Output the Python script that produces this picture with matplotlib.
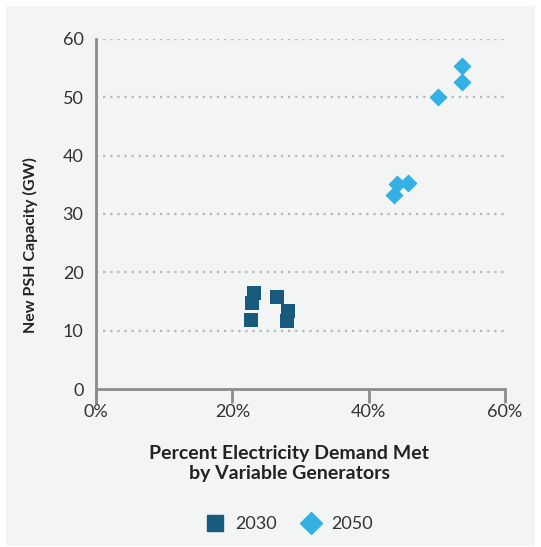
import numpy as np
import matplotlib.pyplot as plt
from matplotlib.lines import Line2D

# percent of demand met by variable generators vs new PSH capacity
x_2030 = [23.2, 22.9, 22.7, 26.5, 28.2, 28.0]
y_2030 = [16.5, 14.8, 11.9, 15.7, 13.4, 11.7]
x_2050 = [53.7, 53.7, 50.1, 45.7, 44.1, 43.7]
y_2050 = [55.4, 52.7, 50.0, 35.4, 35.1, 33.3]

x_ticks = [0, 20, 40, 60]
x_ticklabels = ["0%", "20%", "40%", "60%"]
y_ticks = [0, 10, 20, 30, 40, 50, 60]

c2030 = "#175a7e"
c2050 = "#33b1e4"
bg = "#f3f5f5"
axc = "#8a8c8e"

plt.rcParams['font.family'] = ['Lato', 'DejaVu Sans']

fig = plt.figure(figsize=(5.41, 5.47), dpi=100, facecolor="white")

# light grey panel behind everything
bgax = fig.add_axes([6 / 541, 1 / 547, 529 / 541, 540 / 547], zorder=-1)
bgax.set_facecolor(bg)
bgax.set_xticks([])
bgax.set_yticks([])
for s in bgax.spines.values():
    s.set_visible(False)

ax = fig.add_axes([96 / 541, 158 / 547, 409 / 541, 350 / 547])
ax.patch.set_alpha(0)

ax.scatter(x_2030, y_2030, marker="s", s=90, color=c2030, zorder=3, linewidths=0)
ax.scatter(x_2050, y_2050, marker="D", s=85, color=c2050, zorder=3, linewidths=0)

ax.set_xlim(0, 60)
ax.set_ylim(0, 60)
ax.set_xticks(x_ticks)
ax.set_xticklabels(x_ticklabels)
ax.set_yticks(y_ticks)

for v in y_ticks[1:]:
    ax.axhline(v, color="#b3b5b7", lw=1.6, ls=(0, (1, 2.2)), zorder=1)

for s in ["top", "right"]:
    ax.spines[s].set_visible(False)
for s in ["left", "bottom"]:
    ax.spines[s].set_color(axc)
    ax.spines[s].set_linewidth(2)
ax.spines["left"].set_bounds(-2.2, 60)

ax.tick_params(axis="x", length=10, width=2, color=axc, labelsize=13,
               labelcolor="#333333", pad=1)
ax.tick_params(axis="y", length=0, labelsize=13, labelcolor="#333333", pad=9)

ax.set_ylabel("New PSH Capacity (GW)", fontsize=11.5, fontweight="bold",
              color="#222222")
ax.yaxis.set_label_coords(-0.142, 0.41)
ax.set_xlabel("Percent Electricity Demand Met\nby Variable Generators",
              fontsize=14, fontweight="bold", color="#222222", linespacing=1.25)
ax.xaxis.set_label_coords(0.472, -0.16)

handles = [Line2D([], [], marker="s", ls="", color=c2030, markersize=11),
           Line2D([], [], marker="D", ls="", color=c2050, markersize=11)]
fig.legend(handles, ["2030", "2050"], loc="center", bbox_to_anchor=(0.533, 0.042),
           ncol=2, frameon=False, fontsize=13, handletextpad=0.5, columnspacing=1.3,
           handlelength=1.2, labelcolor="#333333")

fig.savefig("out.png", dpi=100, facecolor="white")
